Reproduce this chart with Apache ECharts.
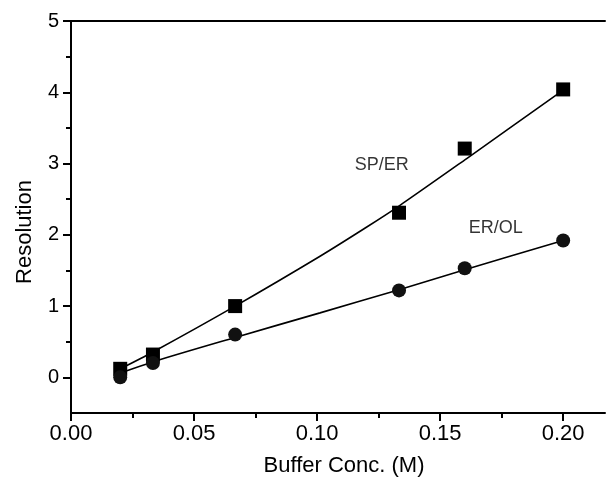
<!DOCTYPE html>
<html>
<head>
<meta charset="utf-8">
<script src="https://cdn.jsdelivr.net/npm/echarts@6/dist/echarts.min.js"></script>
<style>
  html, body { margin: 0; padding: 0; background: #fff; }
  #chart { width: 606px; height: 482px; }
</style>
</head>
<body>
<div id="chart"></div>
<script>
// measured points
const conc = [0.02, 0.0333, 0.0667, 0.1333, 0.16, 0.2];
const spEr = [0.12, 0.32, 1.0, 2.31, 3.21, 4.04];
const erOl = [0.0, 0.2, 0.6, 1.22, 1.53, 1.92];

// fitted curves
const spErFitX = [0.02, 0.0335, 0.0667, 0.1012, 0.1202, 0.1331, 0.1608, 0.2];
const spErFitY = [0.12, 0.36, 1.0, 1.7, 2.11, 2.4, 3.07, 4.03];
const erOlFitX = [0.02, 0.0335, 0.0667, 0.1012, 0.1333, 0.16, 0.2];
const erOlFitY = [0.06, 0.22, 0.56, 0.905, 1.23, 1.51, 1.92];

// curve labels
const labelNames = ['SP/ER', 'ER/OL'];
const labelX = [0.1263, 0.1726];
const labelY = [2.98, 2.09];

const xMajor = [0, 0.05, 0.1, 0.15, 0.2];
const xMinor = [0.025, 0.075, 0.125, 0.175];
const yMajor = [0, 1, 2, 3, 4, 5];
const yMinor = [0.5, 1.5, 2.5, 3.5, 4.5];

const zip = (xs, ys) => xs.map((x, i) => [x, ys[i]]);
const black = { color: '#000', width: 2 };
const X_MAX = 0.217;

const chart = echarts.init(document.getElementById('chart'));
chart.setOption({
  backgroundColor: '#fff',
  animation: false,
  textStyle: { fontFamily: 'Liberation Sans, Arial, sans-serif', color: '#000' },
  grid: { left: 71, right: 1, top: 21, bottom: 69 },
  xAxis: [{
    type: 'value', min: 0, max: X_MAX,
    name: 'Buffer Conc. (M)', nameLocation: 'middle', nameGap: 42,
    nameTextStyle: { fontSize: 22, color: '#000', padding: [0, 0, 0, 12] },
    axisLine: { onZero: false, lineStyle: black },
    axisTick: { length: 8, customValues: xMajor, lineStyle: black },
    axisLabel: { fontSize: 22, color: '#000', margin: 10, customValues: xMajor, formatter: v => v.toFixed(2) },
    splitLine: { show: false }
  }, {
    type: 'value', position: 'top', min: 0, max: X_MAX,
    axisLine: { onZero: false, lineStyle: black },
    axisTick: { show: false }, axisLabel: { show: false }, splitLine: { show: false }
  }, {
    type: 'value', position: 'bottom', min: 0, max: X_MAX,
    axisLine: { show: false, onZero: false },
    axisTick: { length: 5, customValues: xMinor, lineStyle: black },
    axisLabel: { show: false }, splitLine: { show: false }
  }],
  yAxis: [{
    type: 'value', min: -0.5, max: 5,
    name: 'Resolution', nameLocation: 'middle', nameGap: 35,
    nameTextStyle: { fontSize: 22, color: '#000', padding: [0, 30, 0, 0] },
    axisLine: { show: true, onZero: false, lineStyle: black },
    axisTick: { show: true, length: 8, customValues: yMajor, lineStyle: black },
    axisLabel: { fontSize: 20, color: '#000', margin: 12, customValues: yMajor },
    splitLine: { show: false }
  }, {
    type: 'value', min: -0.5, max: 5, position: 'left',
    axisLine: { show: false, onZero: false },
    axisTick: { show: true, length: 5, customValues: yMinor, lineStyle: black },
    axisLabel: { show: false },
    splitLine: { show: false }
  }],
  series: [{
    type: 'line', data: zip(spErFitX, spErFitY), smooth: 0.3, showSymbol: false,
    lineStyle: { color: '#000', width: 1.6 }, z: 2
  }, {
    type: 'line', data: zip(erOlFitX, erOlFitY), smooth: 0.3, showSymbol: false,
    lineStyle: { color: '#000', width: 1.6 }, z: 2
  }, {
    type: 'scatter', data: zip(conc, spEr), symbol: 'rect', symbolSize: 14,
    itemStyle: { color: '#000', opacity: 1 }, z: 3
  }, {
    type: 'scatter', data: zip(conc, erOl), symbol: 'circle', symbolSize: 14,
    itemStyle: { color: '#111', opacity: 1 }, z: 3
  }, {
    type: 'scatter', symbolSize: 0,
    data: labelNames.map((n, i) => ({ name: n, value: [labelX[i], labelY[i]] })),
    label: {
      show: true, position: 'inside', formatter: p => p.name,
      fontSize: 18, color: '#000', fontFamily: 'Liberation Sans Narrow, Arial Narrow, sans-serif'
    }
  }]
});
</script>
</body>
</html>
